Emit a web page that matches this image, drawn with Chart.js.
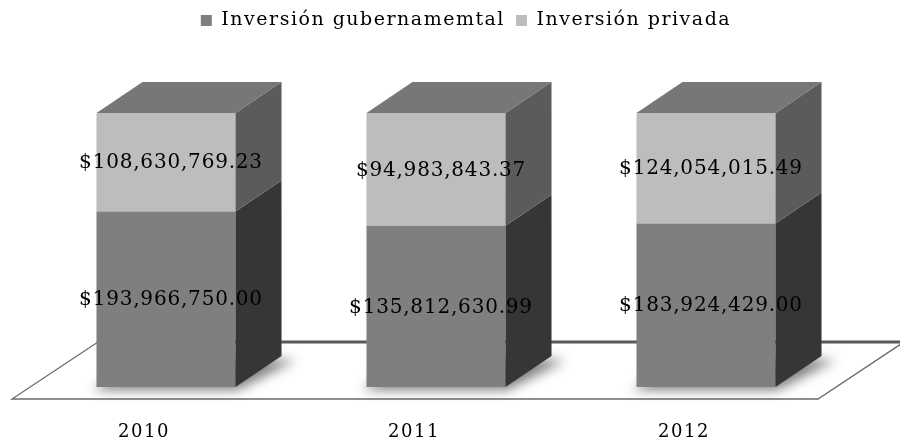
<!DOCTYPE html>
<html><head><meta charset="utf-8">
<script src="https://cdn.jsdelivr.net/npm/chart.js@4/dist/chart.umd.min.js"></script>
<style>html,body{margin:0;padding:0;background:#fff}#wrap{width:900px;height:445px}</style>
</head><body><div id="wrap"><canvas id="c" width="900" height="445"></canvas></div>
<script>
const categories = ['2010', '2011', '2012'];
const seriesNames = ['Inversión gubernamemtal', 'Inversión privada'];
const govValues = [193966750.00, 135812630.99, 183924429.00];
const privValues = [108630769.23, 94983843.37, 124054015.49];

const totals = categories.map((_, i) => govValues[i] + privValues[i]);
const govPct = govValues.map((v, i) => v / totals[i] * 100);
const privPct = privValues.map((v, i) => v / totals[i] * 100);
const rawValues = [govValues, privValues];
const fmt = v => '$' + v.toLocaleString('en-US', {minimumFractionDigits: 2, maximumFractionDigits: 2});

const frontColors = ['#7f7f7f', '#bdbdbd'];
const sideColors = ['#363636', '#5b5b5b'];
const topColor = '#777777';
const DX = 46, DY = -31;

const threeD = {
  id: 'threeD',
  beforeLayout(chart) { chart.ctx.letterSpacing = '1.5px'; },
  beforeDraw(chart) { chart.ctx.letterSpacing = '1.5px'; },
  afterLayout(chart) {
    chart.legend.left += 30; chart.legend.right += 30;
  },
  beforeDatasetsDraw(chart) {
    const ctx = chart.ctx, a = chart.chartArea;
    const fy = a.bottom + 12, by = fy - 57, fdx = 86;
    const x0 = a.left - 19, x1 = a.right - 23;
    ctx.save();
    ctx.strokeStyle = '#6b6b6b'; ctx.lineWidth = 1.3;
    ctx.beginPath(); ctx.moveTo(x0 + fdx, by); ctx.lineTo(x0, fy); ctx.lineTo(x1, fy); ctx.lineTo(x1 + fdx, by); ctx.stroke();
    ctx.strokeStyle = '#595959'; ctx.lineWidth = 3;
    ctx.beginPath(); ctx.moveTo(x0 + fdx, by); ctx.lineTo(x1 + fdx, by); ctx.stroke();
    const meta = chart.getDatasetMeta(0);
    ctx.filter = 'blur(6px)'; ctx.fillStyle = 'rgba(0,0,0,0.5)';
    meta.data.forEach(bar => {
      const p = bar.getProps(['x', 'width', 'base'], true);
      const l = p.x - p.width / 2, r = p.x + p.width / 2, b = p.base;
      ctx.beginPath(); ctx.moveTo(l - 4, b + 3); ctx.lineTo(r + 2, b + 3);
      ctx.lineTo(r + DX + 14, b + DY + 4); ctx.lineTo(l + DX, b + DY); ctx.closePath(); ctx.fill();
    });
    ctx.restore();
  },
  afterDatasetsDraw(chart) {
    const ctx = chart.ctx;
    ctx.save();
    chart.data.datasets.forEach((ds, d) => {
      const meta = chart.getDatasetMeta(d);
      meta.data.forEach((bar, i) => {
        const p = bar.getProps(['x', 'y', 'width', 'base'], true);
        const l = p.x - p.width / 2, r = p.x + p.width / 2;
        ctx.fillStyle = sideColors[d];
        ctx.beginPath(); ctx.moveTo(r, p.y); ctx.lineTo(r + DX, p.y + DY); ctx.lineTo(r + DX, p.base + DY); ctx.lineTo(r, p.base); ctx.closePath(); ctx.fill();
        if (d === chart.data.datasets.length - 1) {
          ctx.fillStyle = topColor;
          ctx.beginPath(); ctx.moveTo(l, p.y); ctx.lineTo(l + DX, p.y + DY); ctx.lineTo(r + DX, p.y + DY); ctx.lineTo(r, p.y); ctx.closePath(); ctx.fill();
        }
      });
    });
    ctx.fillStyle = '#000';
    ctx.font = '20px "DejaVu Serif"';
    ctx.letterSpacing = '0.8px';
    ctx.textAlign = 'center'; ctx.textBaseline = 'middle';
    chart.data.datasets.forEach((ds, d) => {
      const meta = chart.getDatasetMeta(d);
      meta.data.forEach((bar, i) => {
        const p = bar.getProps(['x', 'y', 'base'], true);
        ctx.fillText(fmt(rawValues[d][i]), p.x + 5, (p.y + p.base) / 2 + 1);
      });
    });
    ctx.restore();
  }
};

new Chart(document.getElementById('c'), {
  type: 'bar',
  data: {
    labels: categories,
    datasets: [
      {label: seriesNames[0], data: govPct, backgroundColor: frontColors[0], borderWidth: 0},
      {label: seriesNames[1], data: privPct, backgroundColor: frontColors[1], borderWidth: 0}
    ]
  },
  options: {
    responsive: false,
    animation: false,
    events: [],
    layout: {padding: {left: 31, right: 59, top: 0, bottom: 0}},
    datasets: {bar: {categoryPercentage: 1, barPercentage: 0.515}},
    plugins: {
      legend: {
        position: 'top',
        labels: {font: {family: 'DejaVu Serif', size: 19}, color: '#000', boxWidth: 11, boxHeight: 11, padding: 11}
      },
      tooltip: {enabled: false}
    },
    scales: {
      x: {
        stacked: true,
        grid: {display: false, drawTicks: false},
        border: {display: false},
        ticks: {font: {family: 'DejaVu Serif', size: 18}, color: '#000', padding: 35, labelOffset: -22},
        afterFit(scale) { scale.height = 58; }
      },
      y: {stacked: true, display: false, min: 0, max: 126.7}
    }
  },
  plugins: [threeD]
});
</script>
</body></html>
